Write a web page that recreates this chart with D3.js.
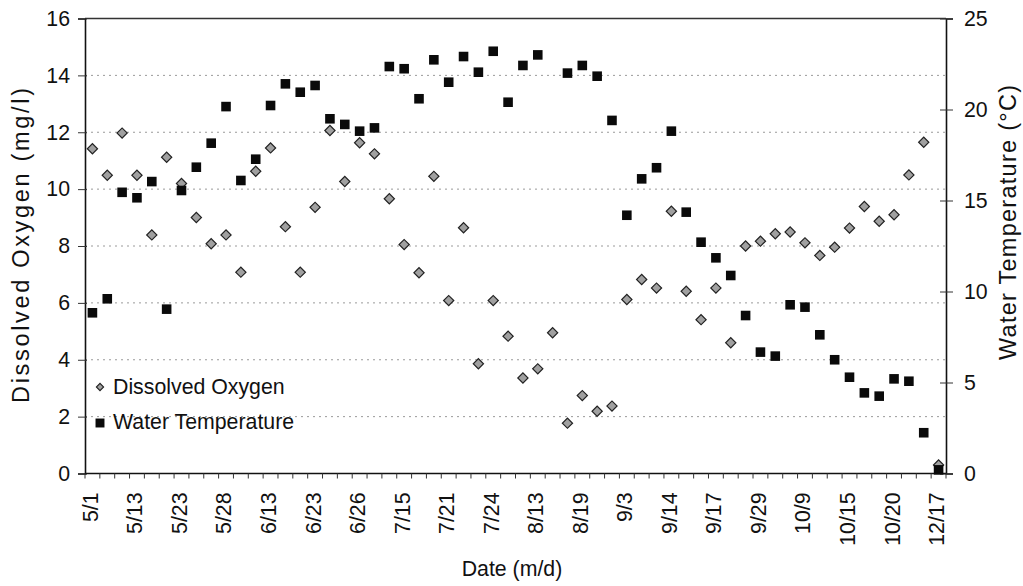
<!DOCTYPE html>
<html>
<head>
<meta charset="utf-8">
<script src="https://cdn.jsdelivr.net/npm/d3@7"></script>
<style>
  html, body { margin: 0; padding: 0; background: #fff; }
  svg { display: block; font-family: "Liberation Sans", Arial, sans-serif; }
</style>
</head>
<body>
<svg id="chart" width="1023" height="586"></svg>
<script>
// ---- data ----
const tickLabels = ["5/1","5/13","5/23","5/28","6/13","6/23","6/26","7/15","7/21","7/24",
                    "8/13","8/19","9/3","9/14","9/17","9/29","10/9","10/15","10/20","12/17"];
const labelEvery = 3; // one date label every third sample
const dissolvedOxygen = [11.42,10.49,11.97,10.49,8.39,11.12,10.2,9.0,8.08,8.39,
                         7.08,10.63,11.45,8.68,7.08,9.36,12.06,10.27,11.63,11.24,
                         9.66,8.05,7.06,10.45,6.08,8.64,3.86,6.08,4.83,3.36,
                         3.68,4.95,1.77,2.74,2.19,2.37,6.12,6.82,6.52,9.22,
                         6.41,5.41,6.52,4.6,8.0,8.17,8.43,8.49,8.11,7.67,
                         7.96,8.63,9.39,8.87,9.1,10.5,11.65,0.3];
const waterTemperature = [8.83,9.6,15.45,15.15,16.04,9.03,15.55,16.83,18.15,20.16,
                          16.1,17.27,20.22,21.41,20.95,21.32,19.49,19.18,18.81,18.99,
                          22.36,22.24,20.59,22.73,21.5,22.91,22.05,23.2,20.4,22.42,
                          23.0,null,22.0,22.42,21.83,19.4,14.19,16.19,16.8,18.81,
                          14.36,12.71,11.85,10.88,8.68,6.67,6.45,9.27,9.14,7.62,
                          6.25,5.29,4.43,4.25,5.2,5.07,2.24,0.2];
const leftTicks = [0,2,4,6,8,10,12,14,16];
const rightTicks = [0,5,10,15,20,25];
const samples = d3.range(dissolvedOxygen.length);

// ---- layout ----
const L = 85, R = 946, T = 18.5, B = 473.5;
const fs = 21.3;
const svg = d3.select("#chart");

const x = d3.scaleBand().domain(samples).range([L, R]).padding(0);
const yL = d3.scaleLinear().domain([0, 16]).range([B, T]);
const yR = d3.scaleLinear().domain([0, 25]).range([B, T]);

// gridlines
svg.append("g").selectAll("line").data(leftTicks.filter(d => d > 0 && d < 16)).join("line")
  .attr("x1", L).attr("x2", R).attr("y1", d => yL(d)).attr("y2", d => yL(d))
  .attr("stroke", "#9a9a9a").attr("stroke-width", 1).attr("stroke-dasharray", "2,4");

// top border
svg.append("line").attr("x1", L).attr("x2", R).attr("y1", T).attr("y2", T)
  .attr("stroke", "#333").attr("stroke-width", 1.5);

// left axis
const gL = svg.append("g").attr("transform", `translate(${L},0)`)
  .call(d3.axisLeft(yL).tickValues(leftTicks).tickSize(7).tickPadding(8).tickFormat(d3.format("d")));
gL.select(".domain").attr("stroke", "#111").attr("stroke-width", 1.6);
gL.selectAll(".tick line").attr("stroke", "#333").attr("x2", -7).attr("x1", 2);
gL.selectAll("text").attr("font-size", fs).attr("fill", "#111").attr("font-family", "Liberation Sans, Arial, sans-serif");

// right axis
const gR = svg.append("g").attr("transform", `translate(${R},0)`)
  .call(d3.axisRight(yR).tickValues(rightTicks).tickSize(7).tickPadding(11).tickFormat(d3.format("d")));
gR.select(".domain").attr("stroke", "#111").attr("stroke-width", 1.6);
gR.selectAll(".tick line").attr("stroke", "#333").attr("x1", -6).attr("x2", 7);
gR.selectAll("text").attr("font-size", fs).attr("fill", "#111").attr("font-family", "Liberation Sans, Arial, sans-serif");

// bottom axis line + boundary ticks
svg.append("line").attr("x1", L).attr("x2", R).attr("y1", B).attr("y2", B)
  .attr("stroke", "#111").attr("stroke-width", 1.6);
const bounds = samples.map(i => x(i)).concat([x.range()[1]]);
svg.append("g").selectAll("line").data(bounds).join("line")
  .attr("x1", d => d).attr("x2", d => d).attr("y1", B).attr("y2", B + 5)
  .attr("stroke", "#333").attr("stroke-width", 1);

// x tick labels
const gX = svg.append("g").attr("transform", `translate(0,${B})`)
  .call(d3.axisBottom(x).tickValues(samples.filter(i => i % labelEvery === 0))
        .tickSize(0).tickFormat(i => tickLabels[i / labelEvery]));
gX.select(".domain").remove();
gX.selectAll("text")
  .attr("font-size", fs).attr("fill", "#111").attr("font-family", "Liberation Sans, Arial, sans-serif")
  .attr("text-anchor", "end").attr("y", 0).attr("dy", "0.35em")
  .attr("transform", "translate(-2,19) rotate(-90)");

// axis titles
svg.append("text").attr("transform", `translate(21,245.5) rotate(-90)`)
  .attr("text-anchor", "middle").attr("dy", "0.35em").attr("font-size", 23.5).attr("fill", "#111")
  .attr("textLength", 315).attr("lengthAdjust", "spacing")
  .text("Dissolved Oxygen (mg/l)");
svg.append("text").attr("transform", `translate(1008,222.5) rotate(-90)`)
  .attr("text-anchor", "middle").attr("dy", "0.35em").attr("font-size", 23.5).attr("fill", "#111")
  .attr("textLength", 275).attr("lengthAdjust", "spacing")
  .text("Water Temperature (°C)");
svg.append("text").attr("x", 512).attr("y", 576)
  .attr("text-anchor", "middle").attr("font-size", fs).attr("fill", "#111")
  .text("Date (m/d)");

// marks
const diamond = d3.symbol().type(d3.symbolSquare).size(52);
const square = d3.symbol().type(d3.symbolSquare).size(92);
const cx = i => x(i) + x.bandwidth() / 2;

svg.append("g").selectAll("path").data(samples.filter(i => dissolvedOxygen[i] != null)).join("path")
  .attr("d", diamond)
  .attr("transform", i => `translate(${cx(i)},${yL(dissolvedOxygen[i])}) rotate(45)`)
  .attr("fill", "#a0a0a0").attr("stroke", "#222").attr("stroke-width", 1.2);

svg.append("g").selectAll("path").data(samples.filter(i => waterTemperature[i] != null)).join("path")
  .attr("d", square)
  .attr("transform", i => `translate(${cx(i)},${yR(waterTemperature[i])})`)
  .attr("fill", "#0a0a0a");

// legend
const lg = svg.append("g");
lg.append("path").attr("d", d3.symbol().type(d3.symbolSquare).size(26))
  .attr("transform", "translate(100,387) rotate(45)")
  .attr("fill", "#a0a0a0").attr("stroke", "#222").attr("stroke-width", 1.1);
lg.append("text").attr("x", 113).attr("y", 387).attr("dy", "0.35em")
  .attr("font-size", fs).attr("fill", "#111").text("Dissolved Oxygen");
lg.append("path").attr("d", d3.symbol().type(d3.symbolSquare).size(80))
  .attr("transform", "translate(100,423)").attr("fill", "#0a0a0a");
lg.append("text").attr("x", 113).attr("y", 422).attr("dy", "0.35em")
  .attr("font-size", fs).attr("fill", "#111").text("Water Temperature");
</script>
</body>
</html>
